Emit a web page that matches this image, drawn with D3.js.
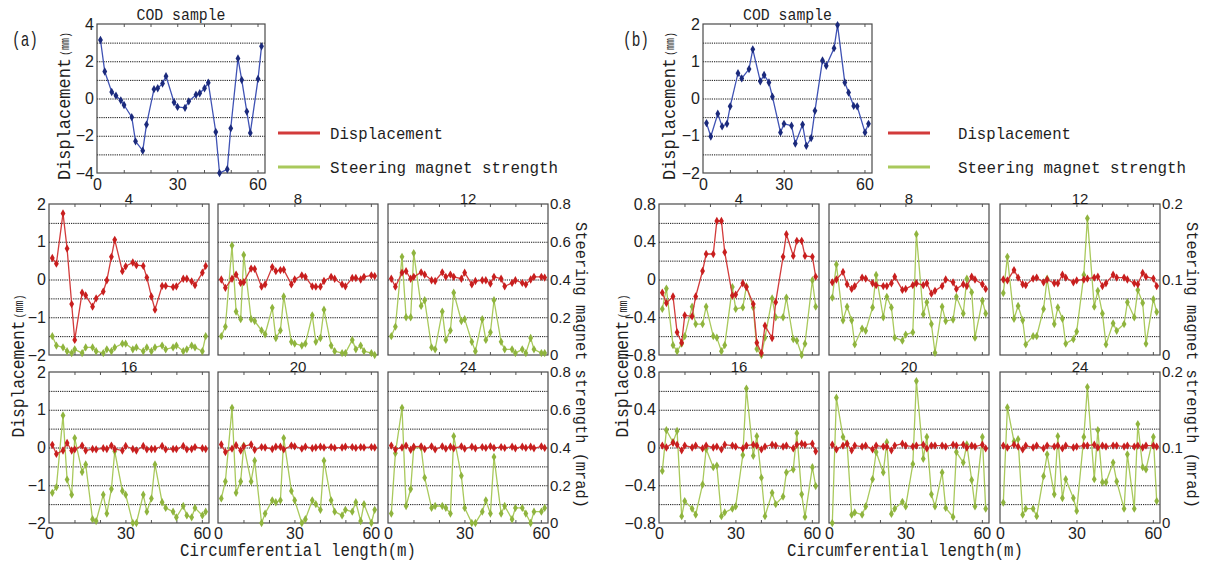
<!DOCTYPE html>
<html>
<head>
<meta charset="utf-8">
<script src="https://cdn.jsdelivr.net/npm/d3@7"></script>
<style>
  body { margin: 0; background: #fff; }
</style>
</head>
<body>
<script>
// ---- data -------------------------------------------------------------
var circumference = 62.8;
var positions = [1.3, 2.9, 5.5, 7.1, 8.9, 10.1, 13.0, 14.4, 17.1, 18.5, 21.3, 22.7, 24.5, 25.8, 28.8, 30.1,
                 32.9, 34.3, 37.0, 38.4, 40.2, 41.6, 44.4, 45.8, 48.7, 50.0, 52.7, 54.1, 56.0, 57.3, 60.2, 61.5];
var panelTitles = ["4", "8", "12", "16", "20", "24"];

var codA = [3.14, 1.45, 0.35, 0.15, -0.1, -0.35, -1.0, -2.3, -2.8, -1.4, 0.5, 0.55, 0.8, 1.2, -0.2, -0.45,
            -0.5, -0.15, 0.2, 0.28, 0.55, 0.85, -1.8, -4.0, -3.8, -1.6, 2.15, 1.0, -0.7, -1.85, 1.05, 2.8];
var codB = [-0.66, -1.02, -0.41, -0.75, -0.68, -0.21, 0.68, 0.54, 0.79, 1.32, 0.46, 0.63, 0.43, 0.05, -0.91, -0.68,
            -0.73, -1.21, -0.7, -1.27, -1.06, -0.33, 1.02, 0.88, 1.35, 1.97, 0.43, 0.16, -0.2, -0.21, -0.91, -0.68];

// (a) displacement (mm) / steering magnet strength (mrad)
var dispA4 = [0.57, 0.42, 1.75, 0.82, -0.65, -1.6, -0.35, -0.42, -0.72, -0.5, -0.32, -0.02, 0.6, 1.05, 0.22, 0.35,
              0.45, 0.38, 0.36, 0.05, -0.45, -0.8, -0.17, -0.17, -0.2, -0.18, 0.02, 0.02, -0.05, -0.15, 0.18, 0.36];
var steerA4 = [0.10, 0.05, 0.04, 0.02, 0.01, 0.03, 0.01, 0.04, 0.04, 0.02, 0.01, 0.03, 0.02, 0.04, 0.06, 0.06,
               0.03, 0.04, 0.02, 0.04, 0.02, 0.04, 0.05, 0.03, 0.04, 0.05, 0.02, 0.03, 0.05, 0.04, 0.02, 0.10];
var dispA8 = [0, -0.22, 0.02, 0.13, -0.09, -0.07, 0.29, 0.28, -0.19, -0.13, 0.33, 0.22, 0.25, 0.26, -0.13, 0,
              0.11, 0.07, -0.18, -0.19, -0.19, -0.04, 0.07, 0.02, -0.13, -0.18, 0.04, 0.04, 0, 0.07, 0.11, 0.09];
var steerA8 = [0.10, 0.15, 0.58, 0.23, 0.19, 0.53, 0.19, 0.18, 0.13, 0.11, 0.25, 0.09, 0.13, 0.31, 0.07, 0.06,
               0.05, 0.06, 0.21, 0.07, 0.09, 0.24, 0.05, 0.02, 0.01, 0.01, 0.08, 0.03, 0.05, 0.02, 0.01, 0.0];
var dispA12 = [0.02, -0.19, 0.18, 0.22, 0.02, 0.07, 0.19, 0.13, -0.02, -0.04, 0.19, 0.07, 0.13, 0.07, 0.02, 0.18,
               -0.13, -0.04, -0.02, -0.02, -0.11, 0.07, 0.02, -0.18, -0.09, -0.02, -0.09, -0.13, 0, 0.07, 0.07, 0.05];
var steerA12 = [0.10, 0.15, 0.52, 0.20, 0.20, 0.54, 0.26, 0.29, 0.04, 0.03, 0.23, 0.08, 0.13, 0.33, 0.18, 0.19,
                0.07, 0.02, 0.19, 0.08, 0.12, 0.29, 0.07, 0.03, 0.03, 0.01, 0.03, 0.01, 0.09, 0.03, 0.01, 0.01];
var dispA16 = [0.07, -0.17, -0.08, 0.12, -0.08, -0.05, 0.05, -0.08, -0.04, -0.05, -0.02, -0.04, 0.05, -0.04, -0.08, 0.04,
               -0.04, -0.08, 0.04, -0.05, -0.04, -0.04, 0.04, -0.05, -0.04, -0.04, 0.04, -0.05, -0.04, 0.01, -0.02, -0.04];
var steerA16 = [0.16, 0.19, 0.57, 0.23, 0.15, 0.45, 0.27, 0.31, 0.02, 0.01, 0.15, 0.05, 0.18, 0.38, 0.17, 0.15,
                0.0, 0.0, 0.15, 0.06, 0.13, 0.31, 0.11, 0.08, 0.06, 0.03, 0.09, 0.04, 0.03, 0.08, 0.04, 0.06];
var dispA20 = [0.08, -0.12, -0.03, 0.06, -0.08, 0.03, 0.08, -0.06, 0.01, 0.0, -0.04, 0.02, 0.02, -0.05, 0.05, 0.03,
               -0.03, 0.02, -0.02, 0.0, 0.02, 0.0, 0.01, -0.01, 0.0, 0.02, 0.01, -0.01, 0.01, 0.0, 0.01, 0.0];
var steerA20 = [0.13, 0.22, 0.61, 0.16, 0.22, 0.41, 0.22, 0.33, 0.0, 0.05, 0.12, 0.11, 0.12, 0.45, 0.17, 0.12,
                0.0, 0.02, 0.12, 0.10, 0.07, 0.33, 0.12, 0.06, 0.04, 0.07, 0.06, 0.11, 0.01, 0.10, 0.0, 0.07];
var dispA24 = [0.05, -0.05, 0.0, 0.05, -0.06, 0.02, 0.03, -0.04, 0.03, -0.05, 0.03, -0.03, 0.02, -0.02, 0.03, -0.03,
               0.02, -0.02, 0.01, -0.01, 0.03, -0.01, 0.01, -0.01, 0.02, -0.02, 0.02, -0.01, 0.02, -0.02, 0.03, -0.01];
var steerA24 = [0.05, 0.37, 0.61, 0.09, 0.18, 0.40, 0.40, 0.24, 0.08, 0.09, 0.09, 0.08, 0.05, 0.46, 0.25, 0.08,
                0.0, 0.0, 0.06, 0.12, 0.05, 0.35, 0.05, 0.09, 0.02, 0.08, 0.08, 0.05, 0.0, 0.06, 0.06, 0.08];

// (b)
var dispB4 = [-0.14, -0.25, -0.18, -0.56, -0.67, -0.38, -0.39, -0.18, 0.09, 0.27, 0.27, 0.62, 0.62, 0.29, -0.17, -0.16,
              -0.04, -0.08, -0.26, -0.67, -0.78, -0.49, -0.62, -0.24, 0.24, 0.48, 0.25, 0.41, 0.41, 0.25, 0.24, 0.03];
var steerB4 = [0.061, 0.088, 0.013, 0.005, 0.015, 0.025, 0.064, 0.041, 0.041, 0.064, 0.025, 0.023, 0.005, 0.013, 0.09, 0.061,
               0.063, 0.091, 0.063, 0.008, 0.0, 0.023, 0.075, 0.05, 0.05, 0.076, 0.021, 0.019, 0.0, 0.015, 0.099, 0.064];
var dispB8 = [-0.03, 0.0, 0.08, -0.05, -0.1, -0.07, 0.02, 0.01, -0.04, -0.06, -0.07, -0.07, -0.04, 0.03, -0.11, -0.1,
              -0.06, -0.04, -0.06, -0.04, -0.15, -0.12, -0.07, 0.0, -0.03, -0.1, -0.05, -0.07, 0.03, 0.0, -0.05, -0.1];
var steerB8 = [0.076, 0.12, 0.046, 0.064, 0.046, 0.014, 0.035, 0.032, 0.063, 0.106, 0.05, 0.077, 0.063, 0.023, 0.019, 0.027,
               0.03, 0.16, 0.054, 0.07, 0.041, 0.003, 0.064, 0.045, 0.047, 0.077, 0.055, 0.101, 0.083, 0.023, 0.072, 0.055];
var dispB12 = [0.0, -0.01, 0.1, 0.02, -0.05, -0.06, 0.01, 0.02, -0.03, 0.0, -0.04, -0.04, 0.05, 0.02, -0.03, -0.01,
               0.0, 0.01, 0.02, 0.03, -0.07, -0.04, 0.05, 0.02, 0.02, 0.0, -0.04, -0.05, 0.07, 0.03, 0.01, -0.07];
var steerB12 = [0.082, 0.13, 0.048, 0.065, 0.046, 0.014, 0.025, 0.025, 0.061, 0.101, 0.041, 0.063, 0.048, 0.015, 0.021, 0.031,
                0.106, 0.181, 0.064, 0.085, 0.055, 0.014, 0.042, 0.032, 0.041, 0.07, 0.05, 0.086, 0.069, 0.015, 0.074, 0.057];
var dispB16 = [0.02, 0.0, 0.05, 0.03, -0.03, 0.02, 0.0, 0.02, -0.01, 0.02, 0.0, 0.01, -0.02, 0.03, 0.02, 0.01,
               -0.01, 0.02, 0.03, 0.02, -0.02, 0.01, 0.03, 0.02, 0.01, 0.02, -0.01, 0.03, 0.04, 0.03, 0.04, -0.04];
var steerB16 = [0.069, 0.123, 0.107, 0.122, 0.009, 0.029, 0.019, 0.011, 0.051, 0.098, 0.074, 0.076, 0.009, 0.014, 0.019, 0.022,
                0.09, 0.178, 0.089, 0.115, 0.06, 0.009, 0.04, 0.025, 0.035, 0.067, 0.071, 0.119, 0.038, 0.008, 0.074, 0.049];
var dispB20 = [0.03, -0.02, 0.02, 0.04, -0.03, 0.02, 0.01, 0.02, -0.02, 0.02, 0.01, 0.01, -0.03, 0.02, 0.04, 0.02,
               0.01, 0.02, 0.03, -0.01, 0.02, 0.02, 0.02, 0.01, 0.03, 0.02, 0.03, 0.0, 0.02, 0.01, 0.03, -0.01];
var steerB20 = [0.0, 0.166, 0.114, 0.105, 0.011, 0.014, 0.011, 0.022, 0.058, 0.094, 0.067, 0.107, 0.012, 0.019, 0.028, 0.022,
                0.078, 0.188, 0.085, 0.114, 0.038, 0.022, 0.067, 0.02, 0.008, 0.094, 0.08, 0.104, 0.057, 0.022, 0.114, 0.019];
var dispB24 = [0.02, 0.0, 0.03, 0.01, -0.02, 0.02, 0.0, 0.02, -0.01, 0.02, 0.01, 0.02, -0.01, 0.02, 0.0, 0.01,
               0.02, 0.02, 0.03, 0.0, 0.02, 0.01, 0.02, 0.02, 0.01, 0.02, 0.01, 0.02, 0.0, 0.02, 0.02, 0.01];
var steerB24 = [0.027, 0.153, 0.108, 0.111, 0.011, 0.019, 0.019, 0.009, 0.062, 0.091, 0.038, 0.115, 0.033, 0.058, 0.033, 0.016,
                0.114, 0.18, 0.058, 0.123, 0.054, 0.054, 0.08, 0.055, 0.019, 0.091, 0.019, 0.131, 0.074, 0.071, 0.114, 0.029];

// ---- layout -----------------------------------------------------------
var W = 1207, H = 563;
var MONO = "'Liberation Mono','DejaVu Sans Mono',monospace";
var SANS = "'Liberation Sans',Arial,sans-serif";
var INK = "#1e1e1e";
var RED = "#d23b3b", RED_DOT = "#c81e1e";
var GREEN = "#a9c95c", GREEN_DOT = "#8fb43e";
var BLUE = "#3f52b4", BLUE_DOT = "#1b2a7c";

var tops = [204, 372], pw = 160, ph = 151;

var sides = [
  { tag: "(a)", tagX: 12,
    cod: codA, codX: 97, codW: 168, codDomain: [-4, 4], codTicks: [4, 2, 0, -2, -4], codGrid: [3, 2, 1, 0, -1, -2, -3],
    codTitleX: 64, legLine: 278, legText: 330,
    lefts: [49, 218, 388], dispDomain: [-2, 2], dispTicks: [2, 1, 0, -1, -2],
    dispGrid: [1.5, 1, 0.5, 0, -0.5, -1, -1.5], steerDomain: [0, 0.8], steerTicks: [0.8, 0.6, 0.4, 0.2, 0],
    disp: [dispA4, dispA8, dispA12, dispA16, dispA20, dispA24],
    steer: [steerA4, steerA8, steerA12, steerA16, steerA20, steerA24],
    leftTitleX: 18, rightTitleX: 582, xTitleX: 298 },
  { tag: "(b)", tagX: 623,
    cod: codB, codX: 703, codW: 169, codDomain: [-2, 2], codTicks: [2, 1, 0, -1, -2], codGrid: [1.5, 1, 0.5, 0, -0.5, -1, -1.5],
    codTitleX: 669, legLine: 888, legText: 958,
    lefts: [659, 829, 1000], dispDomain: [-0.8, 0.8], dispTicks: [0.8, 0.4, 0, -0.4, -0.8],
    dispGrid: [0.6, 0.4, 0.2, 0, -0.2, -0.4, -0.6], steerDomain: [0, 0.2], steerTicks: [0.2, 0.1, 0],
    disp: [dispB4, dispB8, dispB12, dispB16, dispB20, dispB24],
    steer: [steerB4, steerB8, steerB12, steerB16, steerB20, steerB24],
    leftTitleX: 622, rightTitleX: 1193, xTitleX: 905 }
];

var svg = d3.select("body").append("svg")
  .attr("width", W)
  .attr("height", H)
  .style("display", "block");

svg.append("rect").attr("width", W).attr("height", H).attr("fill", "#fff");

function fmt(d) {
  return d < 0 ? "\u2212" + Math.abs(d) : String(d);
}

function tidy(g, size) {
  g.select(".domain").remove();
  g.selectAll("text")
    .attr("font-family", SANS)
    .attr("font-size", size || 16)
    .attr("fill", INK);
}

function mono(parent, x, y, str, len, size, anchor, rot) {
  return parent.append("text")
    .attr("transform", "translate(" + x + "," + y + ")" + (rot ? " rotate(" + rot + ")" : ""))
    .attr("font-family", MONO)
    .attr("font-size", size)
    .attr("text-anchor", anchor || "start")
    .attr("fill", INK)
    .attr("textLength", len)
    .attr("lengthAdjust", "spacingAndGlyphs")
    .text(str);
}

// "Displacement(mm)" written bottom to top, centred on (cx, cy)
function dispTitle(parent, cx, cy, l1, l2) {
  var g = parent.append("g").attr("transform", "translate(" + cx + "," + cy + ") rotate(-90)");
  var total = l1 + 2 + l2;
  mono(g, -total / 2, 6, "Displacement", l1, 18);
  mono(g, -total / 2 + l1 + 2, 5, "(mm)", l2, 13);
}

function frame(g, x, y, yScale, x0, y0, w, h, grid) {
  var gl = g.append("g")
    .attr("transform", "translate(" + x0 + ",0)")
    .call(d3.axisLeft(yScale).tickValues(grid).tickSize(-w).tickFormat(""));
  gl.select(".domain").remove();
  gl.selectAll("line")
    .attr("stroke", "#111")
    .attr("stroke-width", 1)
    .attr("stroke-dasharray", "1.2,1");

  var minor = [10, 20, 30, 40, 50, 60];
  var tb = g.append("g")
    .attr("transform", "translate(0," + (y0 + h) + ")")
    .call(d3.axisBottom(x).tickValues(minor).tickSize(-3).tickFormat(""));
  tb.select(".domain").remove();
  tb.selectAll("line").attr("stroke", "#555");
  var tt = g.append("g")
    .attr("transform", "translate(0," + y0 + ")")
    .call(d3.axisTop(x).tickValues(minor).tickSize(-3).tickFormat(""));
  tt.select(".domain").remove();
  tt.selectAll("line").attr("stroke", "#555");

  g.append("rect")
    .attr("x", x0).attr("y", y0)
    .attr("width", w).attr("height", h)
    .attr("fill", "none")
    .attr("stroke", "#4a4a4a")
    .attr("stroke-width", 1.2);
}

function series(g, x, y, values, lineColor, dotColor) {
  var pts = d3.zip(positions, values);
  g.append("path")
    .datum(pts)
    .attr("d", d3.line().x(function(d) { return x(d[0]); }).y(function(d) { return y(d[1]); }))
    .attr("fill", "none")
    .attr("stroke", lineColor)
    .attr("stroke-width", 1.3);
  g.selectAll(null)
    .data(pts)
    .join("path")
    .attr("transform", function(d) { return "translate(" + x(d[0]) + "," + y(d[1]) + ")"; })
    .attr("d", d3.symbol(d3.symbolDiamond, 20))
    .attr("fill", dotColor);
}

sides.forEach(function(s) {
  var root = svg.append("g");

  // panel tag
  mono(root, s.tagX, 46, s.tag, 26, 21);

  // ---- COD sample ----
  var cy0 = 24, ch = 149;
  var cx = d3.scaleLinear().domain([0, circumference]).range([s.codX, s.codX + s.codW]);
  var cyS = d3.scaleLinear().domain(s.codDomain).range([cy0 + ch, cy0]);
  var cod = root.append("g");
  frame(cod, cx, cy0, cyS, s.codX, cy0, s.codW, ch, s.codGrid);
  series(cod, cx, cyS, s.cod, BLUE, BLUE_DOT);
  tidy(cod.append("g").attr("transform", "translate(" + s.codX + ",0)")
    .call(d3.axisLeft(cyS).tickValues(s.codTicks).tickSize(0).tickPadding(3).tickFormat(fmt)));
  tidy(cod.append("g").attr("transform", "translate(0," + (cy0 + ch) + ")")
    .call(d3.axisBottom(cx).tickValues([0, 30, 60]).tickSize(0).tickPadding(6)));
  mono(cod, s.codX + s.codW / 2, 20, "COD sample", 89, 16, "middle");
  dispTitle(cod, s.codTitleX, 106, 122, 24);

  // ---- legend ----
  var leg = root.append("g");
  [[133, RED, "Displacement", 113], [167, GREEN, "Steering magnet strength", 228]].forEach(function(l) {
    leg.append("line")
      .attr("x1", s.legLine).attr("x2", s.legLine + 42)
      .attr("y1", l[0]).attr("y2", l[0])
      .attr("stroke", l[1]).attr("stroke-width", 3);
    mono(leg, s.legText, l[0] + 6, l[2], l[3], 17);
  });

  // ---- 6 panels ----
  panelTitles.forEach(function(title, i) {
    var row = Math.floor(i / 3), col = i % 3;
    var x0 = s.lefts[col], y0 = tops[row];
    var x = d3.scaleLinear().domain([0, circumference]).range([x0, x0 + pw]);
    var yD = d3.scaleLinear().domain(s.dispDomain).range([y0 + ph, y0]);
    var yS = d3.scaleLinear().domain(s.steerDomain).range([y0 + ph, y0]);
    var g = root.append("g");

    frame(g, x, y0, yD, x0, y0, pw, ph, s.dispGrid);
    series(g, x, yS, s.steer[i], GREEN, GREEN_DOT);
    series(g, x, yD, s.disp[i], RED, RED_DOT);

    g.append("text")
      .attr("x", x0 + pw / 2).attr("y", y0 - 0.5)
      .attr("text-anchor", "middle")
      .attr("font-family", SANS).attr("font-size", 15)
      .attr("fill", INK)
      .text(title);

    if (col === 0) {
      tidy(g.append("g").attr("transform", "translate(" + x0 + ",0)")
        .call(d3.axisLeft(yD).tickValues(s.dispTicks).tickSize(0).tickPadding(3).tickFormat(fmt)));
    }
    if (col === 2) {
      tidy(g.append("g").attr("transform", "translate(" + (x0 + pw) + ",0)")
        .call(d3.axisRight(yS).tickValues(s.steerTicks).tickSize(0).tickPadding(2).tickFormat(fmt)), 15);
    }
    if (row === 1) {
      tidy(g.append("g").attr("transform", "translate(0," + (y0 + ph) + ")")
        .call(d3.axisBottom(x).tickValues([0, 30, 60]).tickSize(0).tickPadding(5)));
    }
  });

  // ---- axis titles ----
  dispTitle(root, s.leftTitleX, 366, 117, 24);
  // read top to bottom: baseline on the left, letter tops face right
  mono(root, s.rightTitleX - 6, 365, "Steering magnet strength (mrad)", 286, 17, "middle", 90);
  mono(root, s.xTitleX, 556, "Circumferential length(m)", 236, 19, "middle");
});
</script>
</body>
</html>
